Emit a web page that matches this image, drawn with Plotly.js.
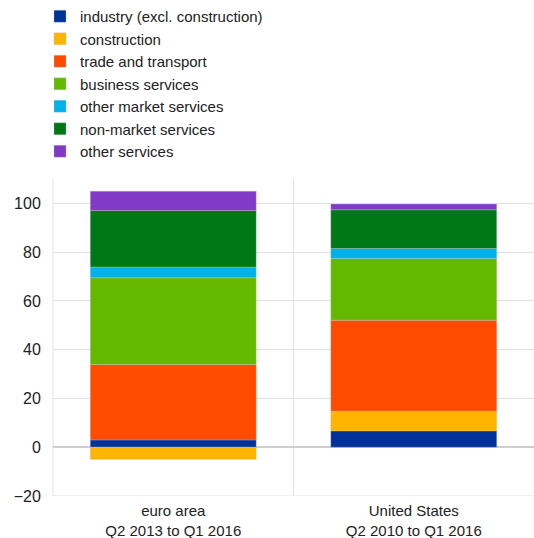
<!DOCTYPE html>
<html><head><meta charset="utf-8">
<script src="https://cdn.plot.ly/plotly-3.0.1.min.js"></script>
<style>html,body{margin:0;padding:0;background:#fff}#chart{width:534px;height:538px}</style>
</head><body><div id="chart"></div>
<script>
const categories = ["euro area<br>Q2 2013 to Q1 2016", "United States<br>Q2 2010 to Q1 2016"];
const seriesNames = ["industry (excl. construction)", "construction", "trade and transport", "business services", "other market services", "non-market services", "other services"];
const industry = [3.0, 6.7];
const construction = [-5.0, 8.1];
const tradeTransport = [30.9, 37.3];
const businessServices = [35.6, 25.3];
const otherMarketServices = [4.4, 4.1];
const nonMarketServices = [23.2, 15.9];
const otherServices = [7.9, 2.3];
const colors = ["#003299", "#FFB400", "#FF4B00", "#65B800", "#00B1EA", "#007816", "#8139C6"];
const allSeries = [industry, construction, tradeTransport, businessServices, otherMarketServices, nonMarketServices, otherServices];

const traces = allSeries.map((vals, i) => ({
  type: "bar",
  name: seriesNames[i],
  x: categories,
  y: vals,
  width: 0.69,
  marker: {color: colors[i], line: {color: "rgba(200,200,220,0.6)", width: 0.5}},
  hoverinfo: "none"
}));

const FONT = "'Liberation Sans', Arial, sans-serif";
const layout = {
  width: 534, height: 538,
  margin: {l: 53, r: 0, t: 179, b: 42},
  barmode: "relative",
  paper_bgcolor: "#fff", plot_bgcolor: "#fff",
  font: {family: FONT, size: 16, color: "#222"},
  showlegend: true,
  legend: {
    traceorder: "normal",
    x: -0.027, xanchor: "left", xref: "paper",
    y: 1.0, yref: "container", yanchor: "top",
    font: {family: FONT, size: 15, color: "#222"},
    itemclick: false, itemdoubleclick: false,
    tracegroupgap: 0
  },
  xaxis: {
    type: "category",
    tickson: "boundaries",
    showgrid: true, gridcolor: "#e1e1e1", gridwidth: 1,
    ticks: "", ticklen: 0, ticklabelstandoff: 4,
    showline: false, zeroline: false,
    tickfont: {family: FONT, size: 15, color: "#222"}
  },
  yaxis: {
    range: [-20, 110],
    tickvals: [-20, 0, 20, 40, 60, 80, 100],
    showgrid: true, gridcolor: "#e1e1e1", gridwidth: 1,
    zeroline: true, zerolinecolor: "#cfcfcf", zerolinewidth: 1.5,
    ticks: "outside", ticklen: 8, tickcolor: "rgba(0,0,0,0)",
    showline: false,
    tickfont: {family: FONT, size: 16, color: "#222"}
  },
  shapes: [
    {type: "line", xref: "paper", yref: "paper", x0: 0, x1: 0, y0: 0, y1: 1, line: {color: "#e1e1e1", width: 1}, layer: "below"},
    {type: "line", xref: "paper", yref: "y", x0: 0, x1: 1, y0: -20, y1: -20, line: {color: "#e1e1e1", width: 1}, layer: "below"}
  ]
};
Plotly.newPlot("chart", traces, layout, {displayModeBar: false, staticPlot: true});
</script>
</body></html>
